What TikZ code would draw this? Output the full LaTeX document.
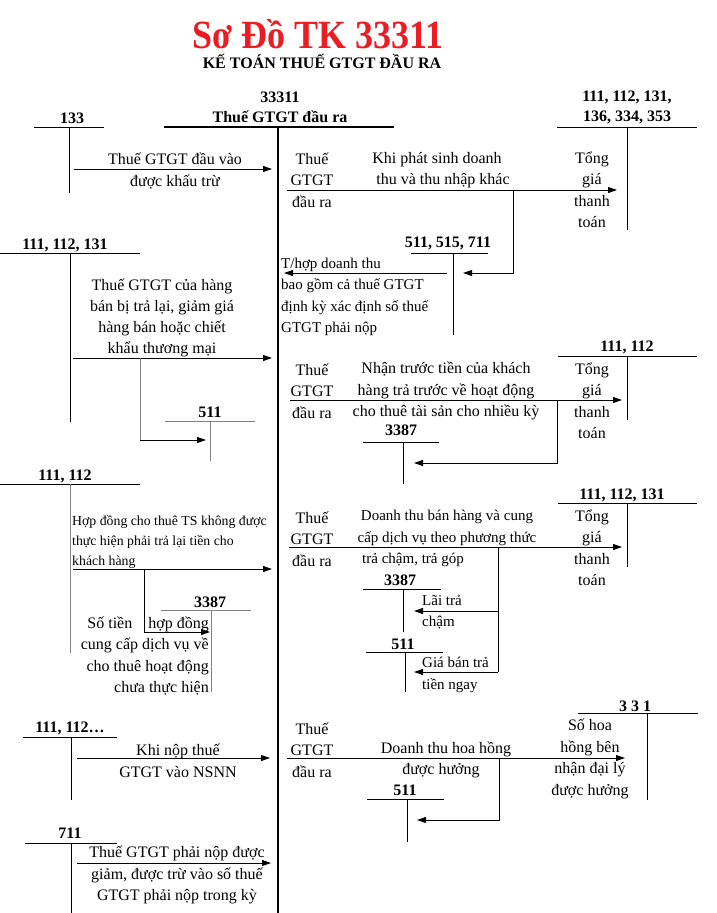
\documentclass[tikz,border=0pt]{standalone}
\usepackage{fontspec}
\setmainfont{Liberation Serif}
\usetikzlibrary{arrows.meta}
\definecolor{titlered}{RGB}{236,28,36}
\definecolor{tgray}{RGB}{130,130,130}
\begin{document}
\begin{tikzpicture}[x=1pt,y=-1pt,
  acc/.style={font=\bfseries\fontsize{16}{20}\selectfont, inner sep=0pt},
  txt/.style={font=\fontsize{16}{21.5}\selectfont, inner sep=0pt, align=center},
  stxt/.style={font=\fontsize{15}{21.5}\selectfont, inner sep=0pt, align=left},
  xtxt/.style={font=\fontsize{13.8}{20}\selectfont, inner sep=0pt, align=left},
  tl/.style={line width=0.9pt},
  gtl/.style={line width=0.9pt, draw=tgray},
  arr/.style={line width=0.9pt, -{Triangle[length=9pt,width=6pt]}},
  ln/.style={line width=0.9pt}]
\useasboundingbox (0,0) rectangle (717,913);
\fill[white] (0,0) rectangle (717,913);

% titles
\node[inner sep=0pt] (title) at (318,34) {\scalebox{0.9}[1]{\color{titlered}\bfseries\fontsize{40}{44}\selectfont Sơ Đồ TK 33311}};
\node[inner sep=0pt] (subtitle) at (322,61) {\bfseries\fontsize{16}{20}\selectfont KẾ TOÁN THUẾ GTGT ĐẦU RA};

% main account 33311
\node[acc] (m1) at (280,97) {33311};
\node[acc] (m2) at (280,117) {Thuế GTGT đầu ra};
\draw[line width=2.4pt] (164,127) -- (394,127);
\draw[line width=2.4pt] (278,127) -- (278,913);

% ---------- row 1 left: 133
\node[acc] (a133) at (72,118) {133};
\draw[tl] (34,127) -- (104,127);
\draw[tl] (69,127) -- (69,193);
\coordinate (r1s) at (74,169); \coordinate (r1e) at (272,169);
\draw[arr] (r1s) -- (r1e);
\node[txt] (t1) at (175,171) {Thuế GTGT đầu vào\\được khấu trừ};

% ---------- row 1 right
\node[acc,align=center,font=\bfseries\fontsize{16}{20}\selectfont] (a111a) at (627,107) {111, 112, 131,\\136, 334, 353};
\draw[tl] (557,127) -- (697,127);
\draw[tl] (627,127) -- (627,230);
\node[txt] (th1) at (312,180) {Thuế\\GTGT\\đầu ra};
\coordinate (q1s) at (287,190); \coordinate (q1e) at (617,190);
\draw[arr] (q1s) -- (q1e);
\node[txt] (t2) at (437,170) {Khi phát sinh doanh\\\hspace*{12pt}thu và thu nhập khác};
\node[txt] (tg1) at (592,190) {Tổng\\giá\\thanh\\toán};
\coordinate (b1s) at (513,190); \coordinate (b1m) at (513,273); \coordinate (b1e) at (463,273);
\draw[arr] (b1s) -- (b1m) -- (b1e);
\node[acc] (a511a) at (448,243) {511, 515, 711};
\draw[tl] (411,253) -- (488,253);
\draw[tl] (453,253) -- (453,335);
\coordinate (c1s) at (447,273); \coordinate (c1e) at (284,273);
\draw[arr] (c1s) -- (c1e);
\node[stxt,anchor=west] (t3) at (281,297) {T/hợp doanh thu\\bao gồm cả thuế GTGT\\định kỳ xác định số thuế\\GTGT phải nộp};

% ---------- row 2 left: 111,112,131
\node[acc] (a111b) at (65,245) {111, 112, 131};
\draw[tl] (0,253) -- (140,253);
\draw[tl] (70,253) -- (70,422);
\node[txt,font=\fontsize{16}{21}\selectfont] (t4) at (162,318) {Thuế GTGT của hàng\\bán bị trả lại, giảm giá\\hàng bán hoặc chiết\\khẩu thương mại};
\coordinate (r2s) at (73,358); \coordinate (r2e) at (272,358);
\draw[arr] (r2s) -- (r2e);
\coordinate (b2s) at (140,358); \coordinate (b2m) at (140,440); \coordinate (b2e) at (206,440);
\draw[gtl] (b2s) -- (b2m);
\draw[arr] (b2m) -- (b2e);
\node[acc] (a511b) at (210,412) {511};
\draw[gtl] (165,421) -- (255,421);
\draw[gtl] (210,421) -- (210,461);

% ---------- row 3 right: 111,112
\node[acc] (a111c) at (627,347) {111, 112};
\draw[tl] (558,356) -- (697,356);
\draw[tl] (627,356) -- (627,420);
\node[txt] (th2) at (312,391) {Thuế\\GTGT\\đầu ra};
\coordinate (q2s) at (290,400); \coordinate (q2e) at (622,400);
\draw[arr] (q2s) -- (q2e);
\node[txt] (t5) at (446,391) {Nhận trước tiền của khách\\hàng trả trước về hoạt động\\cho thuê tài sản cho nhiều kỳ};
\node[txt] (tg2) at (592,401) {Tổng\\giá\\thanh\\toán};
\node[acc] (a3387a) at (401,430) {3387};
\draw[tl] (363,442) -- (439,442);
\draw[tl] (403,442) -- (403,484);
\coordinate (b3s) at (557,400); \coordinate (b3m) at (557,463); \coordinate (b3e) at (414,463);
\draw[arr] (b3s) -- (b3m) -- (b3e);

% ---------- row 4 left: 111,112
\node[acc] (a111d) at (65,476) {111, 112};
\draw[tl] (0,484) -- (140,484);
\draw[gtl] (70,484) -- (70,653);
\node[xtxt,anchor=west] (t6) at (72,542) {Hợp đồng cho thuê TS không được\\thực hiện phải trả lại tiền cho\\khách hàng};
\coordinate (r4s) at (73,569); \coordinate (r4e) at (272,569);
\draw[arr] (r4s) -- (r4e);
\coordinate (b4s) at (144,569); \coordinate (b4m) at (144,632); \coordinate (b4e) at (210,632);
\draw[arr] (b4s) -- (b4m) -- (b4e);
\node[acc] (a3387b) at (210,602) {3387};
\draw[gtl] (161,610) -- (251,610);
\draw[gtl] (211,610) -- (211,692);
\node[txt,align=right,anchor=east] (t7) at (209,656) {Số tiền\hspace{12pt} hợp đồng\\cung cấp dịch vụ về\\cho thuê hoạt động\\chưa thực hiện};

% ---------- row 5 right: 111,112,131
\node[acc] (a111e) at (622,495) {111, 112, 131};
\draw[tl] (558,503) -- (697,503);
\draw[tl] (627,503) -- (627,567);
\node[txt] (th3) at (312,539) {Thuế\\GTGT\\đầu ra};
\coordinate (q3s) at (289,547); \coordinate (q3e) at (622,547);
\draw[arr] (q3s) -- (q3e);
\node[txt,font=\fontsize{15}{21.5}\selectfont] (t8) at (447,528) {Doanh thu bán hàng và cung\\cấp dịch vụ theo phương thức};
\node[stxt,anchor=west] (t8b) at (362,560) {trả chậm, trả góp};
\node[txt] (tg3) at (592,548) {Tổng\\giá\\thanh\\toán};
\coordinate (b5s) at (498,547); \coordinate (b5m) at (498,672);
\coordinate (b5a) at (498,611); \coordinate (b5ae) at (414,611);
\coordinate (b5e) at (414,672);
\draw[ln] (b5s) -- (b5m);
\draw[arr] (b5a) -- (b5ae);
\draw[arr] (b5m) -- (b5e);
\node[acc] (a3387c) at (400,580) {3387};
\draw[tl] (363,589) -- (441,589);
\draw[tl] (403,589) -- (403,632);
\node[stxt,anchor=west] (t9) at (422,612) {Lãi trả\\chậm};
\node[acc] (a511c) at (403,644) {511};
\draw[tl] (366,652) -- (443,652);
\draw[tl] (405,652) -- (405,692);
\node[stxt,anchor=west] (t10) at (422,675) {Giá bán trả\\tiền ngay};

% ---------- row 6 left: 111,112...
\node[acc] (a111f) at (70,728) {111, 112…};
\draw[tl] (23,737) -- (117,737);
\draw[tl] (71,737) -- (71,800);
\coordinate (r6s) at (77,758); \coordinate (r6e) at (270,758);
\draw[arr] (r6s) -- (r6e);
\node[txt] (t11) at (178,761) {Khi nộp thuế\\GTGT vào NSNN};

% ---------- row 6 right: 331
\node[acc] (a331) at (635,706) {3 3 1};
\draw[tl] (578,713) -- (698,713);
\draw[tl] (647,713) -- (647,800);
\node[txt] (th4) at (312,750) {Thuế\\GTGT\\đầu ra};
\coordinate (q4s) at (287,758); \coordinate (q4e) at (625,758);
\draw[arr] (q4s) -- (q4e);
\node[txt] (t12) at (446,760) {Doanh thu hoa hồng\\được hưởng\hspace*{10pt}};
\node[txt] (t13) at (590,759) {Số hoa\\hồng bên\\nhận đại lý\\được hưởng};
\coordinate (b6s) at (499,758); \coordinate (b6m) at (499,820); \coordinate (b6e) at (417,820);
\draw[arr] (b6s) -- (b6m) -- (b6e);
\node[acc] (a511d) at (405,790) {511};
\draw[tl] (367,799) -- (444,799);
\draw[tl] (407,799) -- (407,842);

% ---------- row 7 left: 711
\node[acc] (a711) at (70,833) {711};
\draw[tl] (25,843) -- (117,843);
\draw[tl] (71,843) -- (71,913);
\coordinate (r7s) at (77,863); \coordinate (r7e) at (271,863);
\draw[arr] (r7s) -- (r7e);
\node[txt] (t14) at (177,875) {Thuế GTGT phải nộp được\\giảm, được trừ vào số thuế\\GTGT phải nộp trong kỳ};
\end{tikzpicture}
\end{document}
